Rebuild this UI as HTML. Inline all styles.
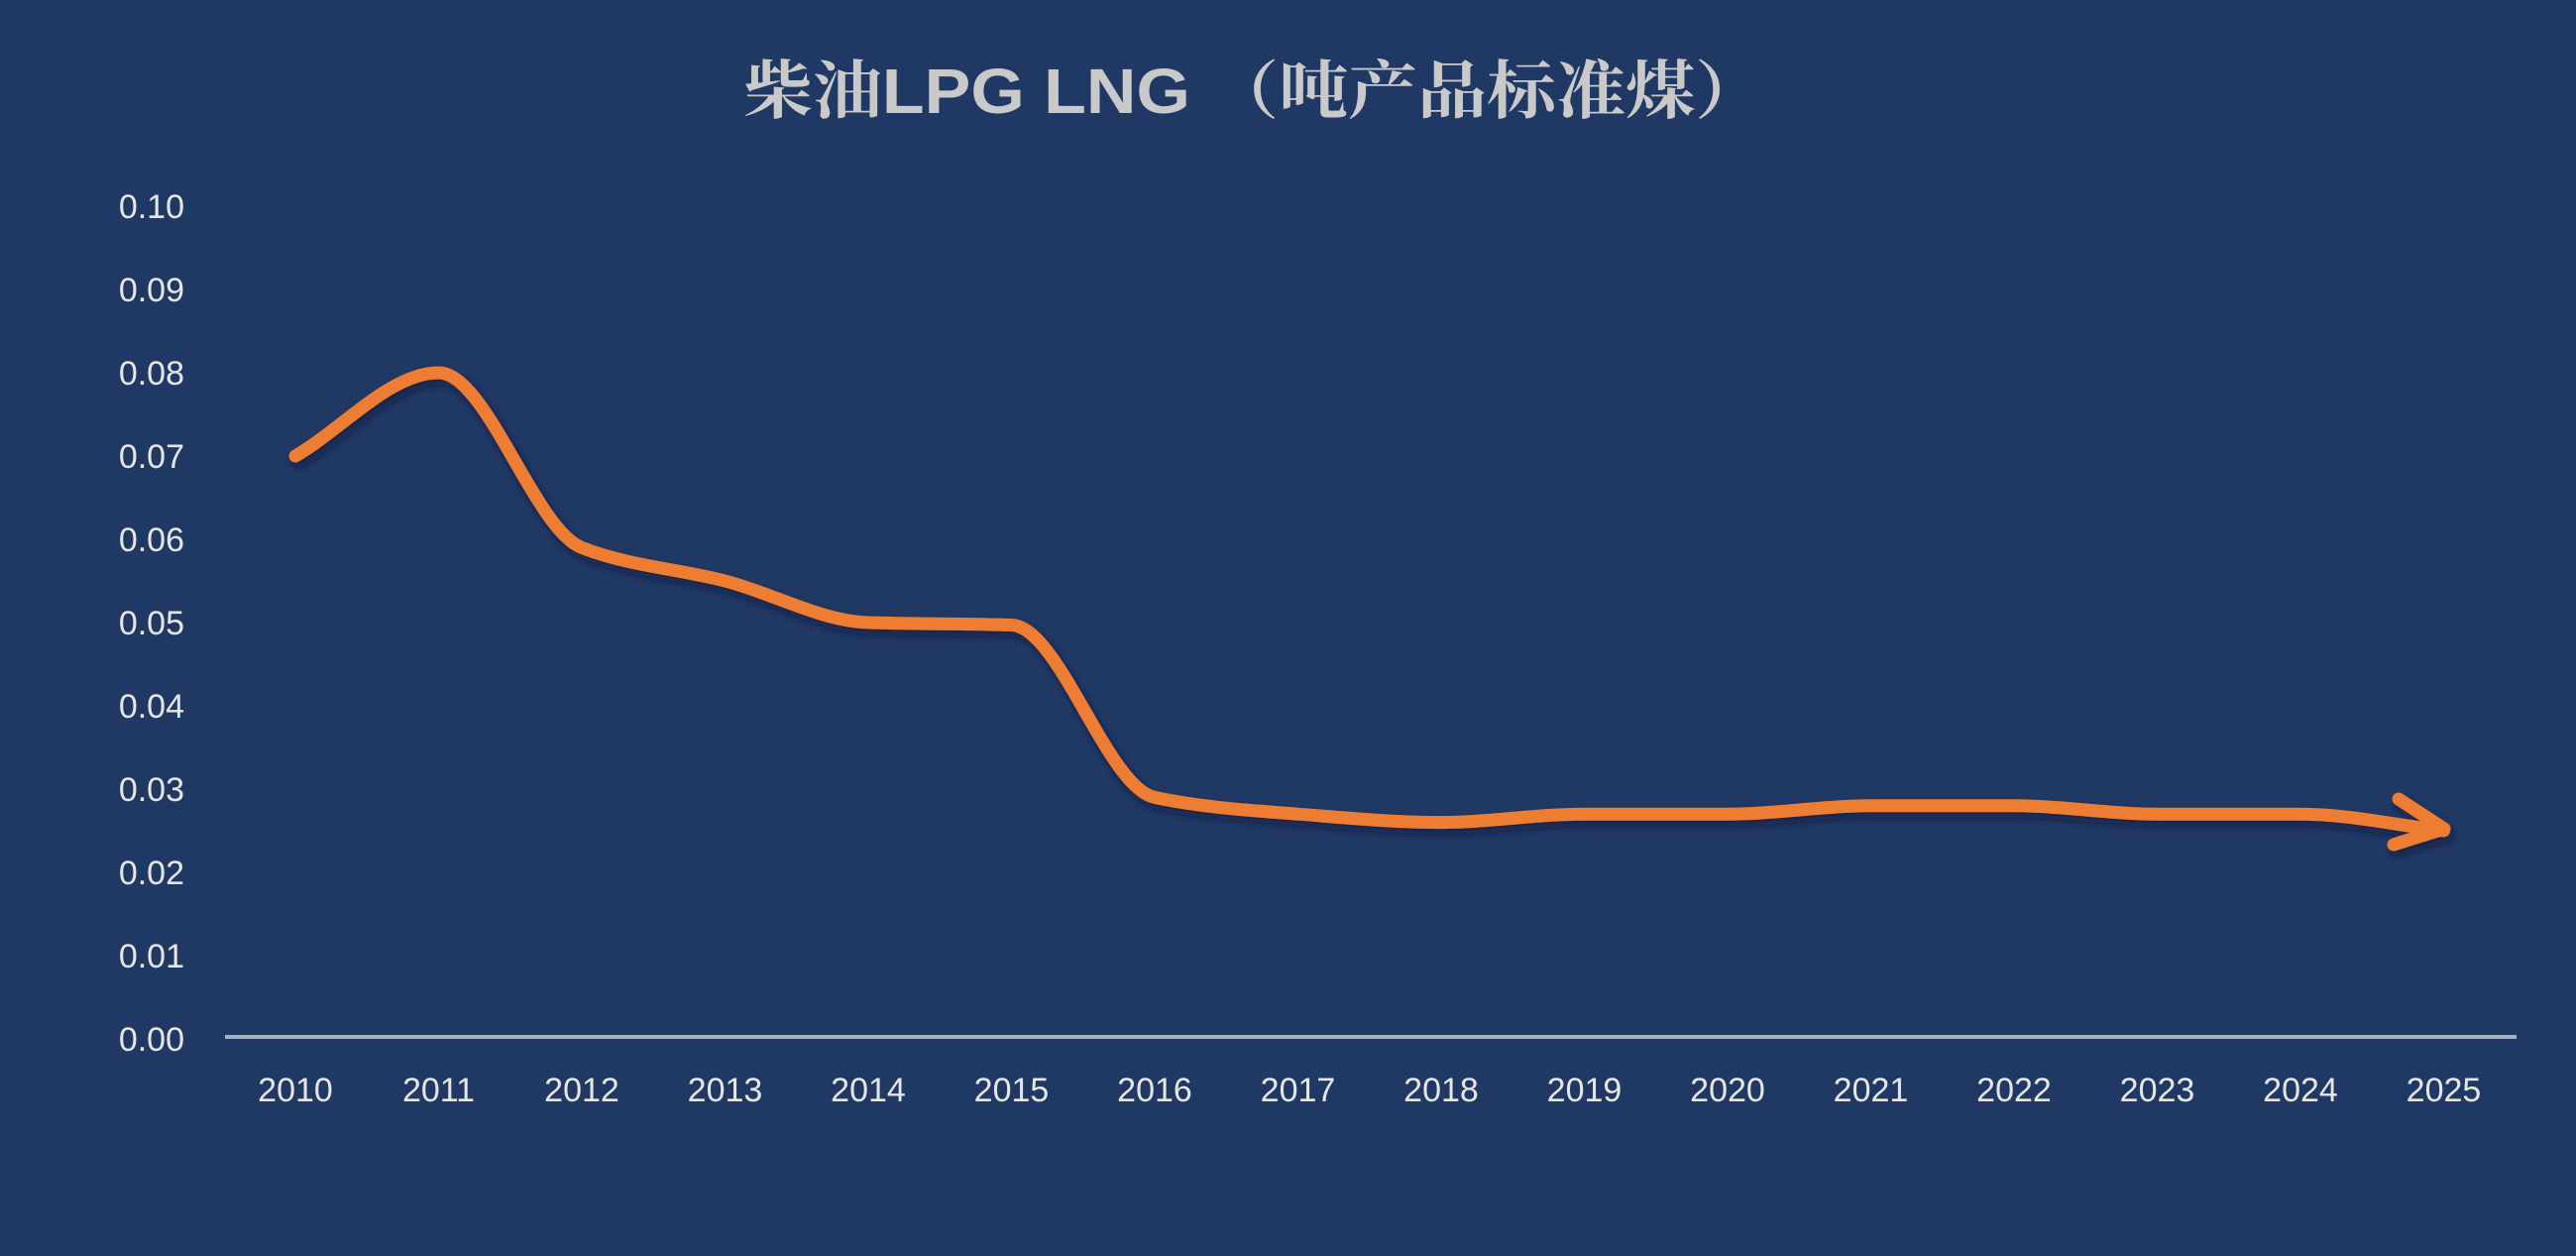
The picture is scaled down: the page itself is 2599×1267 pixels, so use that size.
<!DOCTYPE html>
<html><head><meta charset="utf-8">
<style>
html,body{margin:0;padding:0;background:#203864;}
svg{display:block;}
</style></head>
<body>
<svg id="c" width="2599" height="1267" viewBox="0 0 2599 1267" xmlns="http://www.w3.org/2000/svg">
<defs>
<filter id="sh" x="-5%" y="-5%" width="110%" height="120%">
<feDropShadow dx="3" dy="5" stdDeviation="4" flood-color="#0a1630" flood-opacity="0.6"/>
</filter>
</defs>
<rect width="2599" height="1267" fill="#203864"/>
<text x="1265" y="114" text-anchor="middle" font-family="'Liberation Sans','Noto Serif CJK SC','Noto Sans CJK SC',sans-serif" font-size="64" font-weight="bold" fill="#c9c9c9" textLength="1030" lengthAdjust="spacingAndGlyphs">柴油LPG  LNG （吨产品标准煤）</text>
<g id="yl" font-family="'Liberation Sans',sans-serif" font-size="34" fill="#e6e6e6" text-anchor="end"></g>
<g id="xl" font-family="'Liberation Sans',sans-serif" font-size="34" fill="#e6e6e6" text-anchor="middle"></g>
<line x1="227" y1="1046" x2="2539" y2="1046" stroke="#a6b0c4" stroke-width="4"/>
<g filter="url(#sh)" fill="none" stroke="#ed7d31" stroke-width="13" stroke-linecap="round" stroke-linejoin="round">
<path id="ln" d=""/>
<path d="M2420 806 L2466 836 L2415 852"/>
</g>
</svg>
<script>
var ns="http://www.w3.org/2000/svg";
var yl=document.getElementById('yl'),xl=document.getElementById('xl');
for(var i=0;i<=10;i++){var t=document.createElementNS(ns,'text');t.setAttribute('x',186);t.setAttribute('y',1048-84*i+12);t.textContent=(i/100).toFixed(2);yl.appendChild(t);}
for(var i=0;i<16;i++){var t=document.createElementNS(ns,'text');t.setAttribute('x',298+144.5*i);t.setAttribute('y',1111);t.textContent=2010+i;xl.appendChild(t);}
var v=[0.070,0.080,0.059,0.055,0.050,0.0497,0.029,0.027,0.026,0.027,0.027,0.028,0.028,0.027,0.027,0.025];
var h=144.5;
var p=v.map(function(a,i){return [298+h*i,1048-a*8400];});
var n=p.length,dl=[],m=[];
for(var i=0;i<n-1;i++)dl.push((p[i+1][1]-p[i][1])/h);
m[0]=dl[0];m[n-1]=dl[n-2];
for(var i=1;i<n-1;i++){ if(dl[i-1]*dl[i]<=0)m[i]=0; else m[i]=2/(1/dl[i-1]+1/dl[i]); }
var d="M"+p[0][0]+" "+p[0][1];
for(var i=0;i<n-1;i++){
d+=" C"+(p[i][0]+h/3)+" "+(p[i][1]+m[i]*h/3)+" "+(p[i+1][0]-h/3)+" "+(p[i+1][1]-m[i+1]*h/3)+" "+p[i+1][0]+" "+p[i+1][1];}
document.getElementById('ln').setAttribute('d',d);
</script>
</body></html>
